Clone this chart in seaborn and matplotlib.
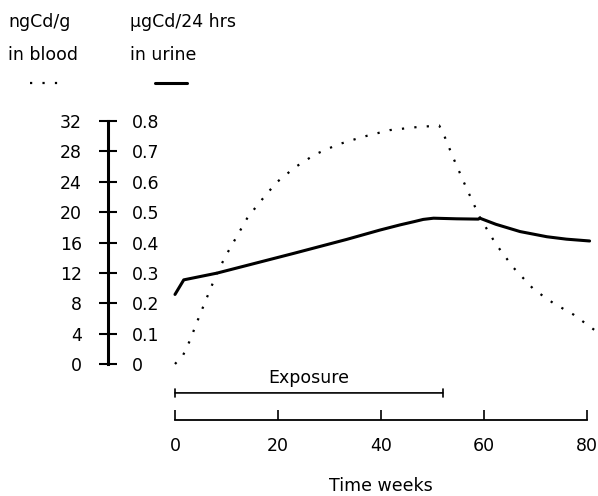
import matplotlib
matplotlib.use("Agg")
import matplotlib.pyplot as plt
import matplotlib.transforms as mtransforms
from matplotlib.lines import Line2D
import seaborn as sns
import pandas as pd

# cadmium in blood (ngCd/g), dotted curve
weeks_blood = [0, 1.6, 2.9, 4.2, 5.8, 8.1, 9.9, 12, 14.1, 16.7, 19.7, 23.3, 27.2,
               31.6, 36.4, 41.7, 47, 51.3, 52.2, 54, 56.5, 59.2, 62.3, 65.7,
               69.7, 73.5, 77.4, 81.8]
blood = [0, 1.2, 3.1, 5.4, 8.1, 11.9, 14.3, 16.8, 19.3, 21.5, 23.9, 25.9, 27.6,
         28.9, 29.9, 30.8, 31.2, 31.4, 30.2, 27.2, 23.3, 19.3, 15.8, 12.7,
         9.8, 8.0, 6.5, 4.3]

# cadmium in urine (ugCd/24 hrs), solid curve
weeks_urine = [0, 1.7, 8.1, 23, 33.3, 39.8, 43.7, 46.5, 48.2, 50.2, 54.7, 58.9,
               59.2, 62.3, 67, 72.2, 76, 80.5]
urine = [0.229, 0.277, 0.299, 0.364, 0.41, 0.441, 0.458, 0.469, 0.476, 0.48,
         0.478, 0.477, 0.48, 0.46, 0.436, 0.419, 0.411, 0.405]

blood_ticks = [0, 4, 8, 12, 16, 20, 24, 28, 32]
urine_ticks = [0, 0.1, 0.2, 0.3, 0.4, 0.5, 0.6, 0.7, 0.8]
urine_labels = ["0", "0.1", "0.2", "0.3", "0.4", "0.5", "0.6", "0.7", "0.8"]
week_ticks = [0, 20, 40, 60, 80]
exposure = [0, 52]

df_blood = pd.DataFrame({"week": weeks_blood, "blood": blood})
df_urine = pd.DataFrame({"week": weeks_urine, "urine": urine})

sns.set_style("white")
plt.rcParams["font.family"] = ["DejaVu Sans"]
plt.rcParams["text.color"] = "black"
plt.rcParams["axes.labelcolor"] = "black"

fig = plt.figure(figsize=(5.98, 4.96), dpi=100)
ax = fig.add_axes([175 / 598, 132 / 496, 412 / 598, 243 / 496])
ax.set_facecolor("none")
ax2 = ax.twinx()

sns.lineplot(data=df_blood, x="week", y="blood", ax=ax, color="black",
             lw=1.6, linestyle=(0, (1, 4.6)), clip_on=False)
sns.lineplot(data=df_urine, x="week", y="urine", ax=ax2, color="black",
             lw=2.2, clip_on=False, solid_joinstyle="round",
             solid_capstyle="round")

ax.set_xlim(0, 80)
ax.set_ylim(0, 32)
ax2.set_ylim(0, 0.8)

# left axis line with ticks through it
for s in ["top", "right"]:
    ax.spines[s].set_visible(False)
ax.spines["left"].set_position(("outward", 48.2))
ax.spines["left"].set_linewidth(2.2)
ax.spines["left"].set_color("black")
ax.set_yticks(blood_ticks)
ax.tick_params(axis="y", direction="inout", length=12.5, width=1.5, pad=12.5,
               labelsize=12.5, colors="black", left=True)

# time axis below
ax.spines["bottom"].set_position(("outward", 40.3))
ax.spines["bottom"].set_linewidth(1.3)
ax.spines["bottom"].set_color("black")
ax.set_xticks(week_ticks)
ax.tick_params(axis="x", direction="in", length=7, width=1.2, pad=12,
               labelsize=12.5, colors="black", bottom=True)
ax.set_xlabel("Time weeks", fontsize=12.5, labelpad=16)
ax.set_ylabel("")

# second scale labels to the right of the same axis line
for s in ["top", "left", "bottom"]:
    ax2.spines[s].set_visible(False)
ax2.spines["right"].set_position(("axes", -67 / 412))
ax2.spines["right"].set_color("none")
ax2.set_yticks(urine_ticks)
ax2.set_yticklabels(urine_labels)
ax2.tick_params(axis="y", length=0, pad=17, labelsize=12.5, colors="black")
ax2.set_ylabel("")

# exposure period bar
trans = mtransforms.blended_transform_factory(ax.transData, ax.transAxes)
ax.annotate("", xy=(exposure[1], -0.119), xytext=(exposure[0], -0.119),
            xycoords=trans, textcoords=trans, annotation_clip=False,
            arrowprops=dict(arrowstyle="|-|,widthA=0.3,widthB=0.3", lw=1.2,
                            color="black", shrinkA=0, shrinkB=0))
ax.text(sum(exposure) / 2, -0.058, "Exposure", transform=trans,
        ha="center", va="center", fontsize=12.5, color="black")

# header labels with line samples
fig.text(8 / 598, 1 - 22 / 496, "ngCd/g", fontsize=12.5, va="center")
fig.text(8 / 598, 1 - 55 / 496, "in blood", fontsize=12.5, va="center")
fig.text(130 / 598, 1 - 22 / 496, "µgCd/24 hrs", fontsize=12.5, va="center")
fig.text(130 / 598, 1 - 55 / 496, "in urine", fontsize=12.5, va="center")
fig.add_artist(Line2D([30 / 598, 64 / 598], [1 - 83 / 496] * 2,
                      transform=fig.transFigure, color="black", lw=1.6,
                      linestyle=(0, (1, 4.6))))
fig.add_artist(Line2D([155 / 598, 187 / 598], [1 - 83 / 496] * 2,
                      transform=fig.transFigure, color="black", lw=2.2))

fig.savefig("out.png", dpi=100)
